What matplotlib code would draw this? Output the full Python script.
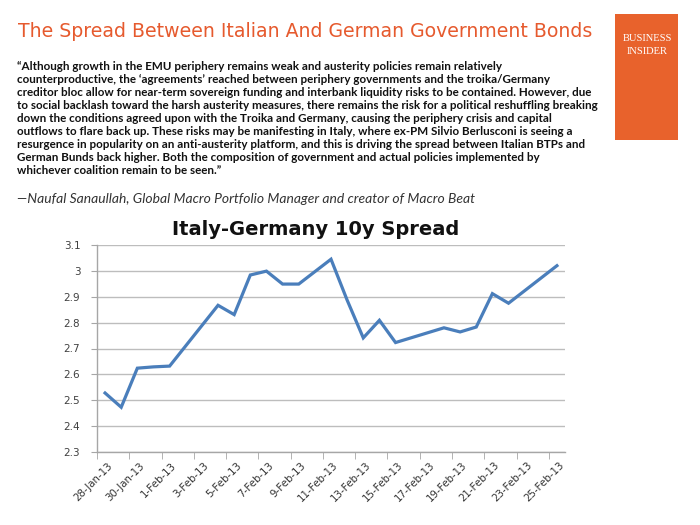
import matplotlib
matplotlib.use("Agg")
import matplotlib.pyplot as plt
import matplotlib.transforms as mtransforms
from matplotlib.patches import Rectangle
import numpy as np
import pandas as pd

# data
dates = ["2013-01-28", "2013-01-29", "2013-01-30", "2013-01-31", "2013-02-01",
         "2013-02-04", "2013-02-05", "2013-02-06", "2013-02-07", "2013-02-08",
         "2013-02-09", "2013-02-11", "2013-02-12", "2013-02-13", "2013-02-14",
         "2013-02-15", "2013-02-18", "2013-02-19", "2013-02-20", "2013-02-21",
         "2013-02-22", "2013-02-25"]
spread = [2.528, 2.473, 2.624, 2.629, 2.632,
          2.867, 2.831, 2.984, 2.999, 2.949,
          2.949, 3.045, 2.887, 2.741, 2.809,
          2.723, 2.780, 2.764, 2.783, 2.912,
          2.875, 3.020]
tick_labels = ["28-Jan-13", "30-Jan-13", "1-Feb-13", "3-Feb-13", "5-Feb-13",
               "7-Feb-13", "9-Feb-13", "11-Feb-13", "13-Feb-13", "15-Feb-13",
               "17-Feb-13", "19-Feb-13", "21-Feb-13", "23-Feb-13", "25-Feb-13"]
y_ticks = [2.3, 2.4, 2.5, 2.6, 2.7, 2.8, 2.9, 3.0, 3.1]

title = "The Spread Between Italian And German Government Bonds"
quote = [
    "\u201cAlthough growth in the EMU periphery remains weak and austerity policies remain relatively",
    "counterproductive, the \u2018agreements\u2019 reached between periphery governments and the troika/Germany",
    "creditor bloc allow for near-term sovereign funding and interbank liquidity risks to be contained. However, due",
    "to social backlash toward the harsh austerity measures, there remains the risk for a political reshuffling breaking",
    "down the conditions agreed upon with the Troika and Germany, causing the periphery crisis and capital",
    "outflows to flare back up. These risks may be manifesting in Italy, where ex-PM Silvio Berlusconi is seeing a",
    "resurgence in popularity on an anti-austerity platform, and this is driving the spread between Italian BTPs and",
    "German Bunds back higher. Both the composition of government and actual policies implemented by",
    "whichever coalition remain to be seen.\u201d",
]
author = "\u2014Naufal Sanaullah, Global Macro Portfolio Manager and creator of Macro Beat"
chart_title = "Italy-Germany 10y Spread"

W, H = 700, 525
orange = "#E8622C"

fig = plt.figure(figsize=(7, 5.25), dpi=100)
fig.patch.set_facecolor("white")


def px(x, y):
    return x / W, 1 - y / H


def fit_width(t, width):
    # scale font so the text spans the given pixel width
    r = fig.canvas.get_renderer()
    w = t.get_window_extent(renderer=r).width
    t.set_fontsize(t.get_fontsize() * width / w)


# header
t = fig.text(*px(18, 37), title, color="#E65A2E", fontsize=14, family="DejaVu Sans",
             va="baseline")
fit_width(t, 574)

fig.patches.append(Rectangle(px(615, 140), 63 / W, 126 / H, transform=fig.transFigure,
                             facecolor=orange, edgecolor="none"))
fig.text(*px(647, 41), "BUSINESS", color="white", fontsize=7.6, family="Liberation Serif",
         ha="center", va="baseline")
fig.text(*px(647, 54), "INSIDER", color="white", fontsize=7.6, family="Liberation Serif",
         ha="center", va="baseline")

# quote
qt = []
for i, line in enumerate(quote):
    qt.append(fig.text(*px(17, 70 + i * 12.95), line, color="#111111", fontsize=7.5,
                       family="Lato", fontweight="bold", va="baseline"))
fit_width(qt[3], 578)
for q in qt:
    q.set_fontsize(qt[3].get_fontsize())

a = fig.text(*px(17, 203), author, color="#333333", fontsize=8, family="Lato",
             style="italic", va="baseline")
fit_width(a, 457)

# chart
d0 = pd.Timestamp(dates[0])
x = np.array([(pd.Timestamp(d) - d0).days for d in dates])

ax = fig.add_axes([97 / W, 1 - 452 / H, 468 / W, 207 / H])
ax.plot(x, spread, color="#4A7EBB", lw=2.3, solid_joinstyle="miter")
ax.set_xlim(-0.5, 28.5)
ax.set_ylim(2.3, 3.1)
ax.set_yticks(y_ticks)
ax.set_yticklabels(["{:g}".format(v) for v in y_ticks])
ax.yaxis.grid(True, color="#BDBDBD", lw=1)
ax.set_axisbelow(True)
for s in ["top", "right"]:
    ax.spines[s].set_visible(False)
for s in ["left", "bottom"]:
    ax.spines[s].set_color("#A6A6A6")
    ax.spines[s].set_linewidth(1)

ax.set_xticks(np.arange(0, 29, 2))
ax.set_xticklabels(tick_labels, rotation=45, ha="right", rotation_mode="anchor",
                   fontsize=7.4, color="#333333")
ax.set_xticks(np.arange(-0.5, 28, 2), minor=True)
ax.tick_params(axis="x", which="major", length=0, pad=6)
ax.tick_params(axis="x", which="minor", length=5, color="#A6A6A6", direction="out")
ax.tick_params(axis="y", length=4, color="#A6A6A6", labelsize=7.5, labelcolor="#404040", pad=8)
off = mtransforms.ScaledTranslation(2 / 100, 0, fig.dpi_scale_trans)
for lab in ax.get_xticklabels():
    lab.set_transform(lab.get_transform() + off)

ct = fig.text(*px(316, 235), chart_title, color="#111111", fontsize=13,
              family="DejaVu Sans", fontweight="bold", ha="center", va="baseline")
fit_width(ct, 287)

fig.savefig("out.png", dpi=100, facecolor="white")
